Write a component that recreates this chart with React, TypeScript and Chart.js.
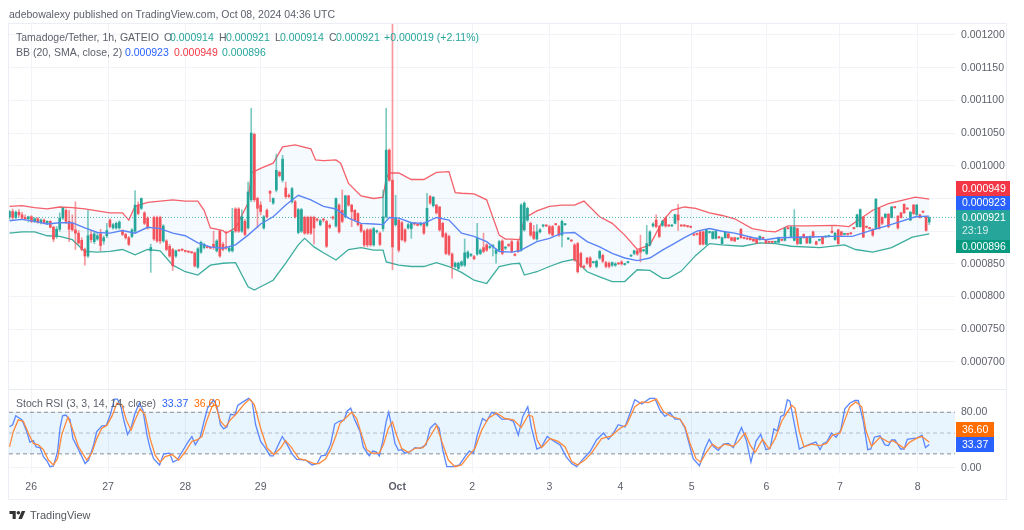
import React, { useEffect, useRef } from "react";
import { Chart, registerables } from "chart.js";

Chart.register(...registerables);

const opens = [
  922, 930, 921, 929, 925, 921, 919, 922, 915, 919,
  914, 917, 913, 915, 906, 892, 903, 920, 932, 915,
  912, 902, 897, 886, 872, 862, 895, 884, 888, 896,
  885, 893, 917, 905, 905, 905, 900, 895, 890, 892,
  900, 940, 935, 928, 920, 870, 921, 921, 921, 885,
  885, 877, 872, 862, 871, 872, 870, 869, 868, 867,
  845, 868, 875, 876, 875, 880, 870, 900, 880, 876,
  870, 870, 934, 934, 900, 915, 905, 948, 1048, 950,
  940, 905, 932, 961, 943, 963, 990, 978, 966, 955,
  945, 945, 898, 900, 921, 921, 921, 921, 918, 910,
  918, 915, 909, 921, 908, 940, 932, 922, 954, 940,
  932, 927, 910, 900, 902, 902, 879, 899, 897, 904,
  922, 1024, 978, 910, 917, 913, 902, 905, 904, 912,
  910, 910, 912, 909, 953, 939, 940, 937, 912, 896,
  892, 865, 846, 843, 848, 848, 860, 863, 861, 865,
  866, 875, 879, 875, 876, 866, 871, 885, 874, 879,
  884, 864, 884, 871, 902, 917, 912, 899, 888, 899,
  908, 909, 907, 907, 911, 907, 894, 910, 888, 886,
  879, 881, 866, 846, 859, 859, 852, 846, 859, 863,
  852, 851, 848, 848, 851, 853, 849, 852, 862, 866,
  870, 873, 870, 866, 879, 908, 917, 907, 909, 920,
  909, 908, 912, 925, 909, 909, 908, 907, 895, 896,
  899, 899, 880, 898, 889, 889, 891, 881, 890, 896,
  890, 890, 888, 903, 890, 889, 890, 888, 888, 887,
  890, 886, 884, 884, 883, 883, 887, 886, 905, 892,
  886, 904, 881, 895, 891, 882, 899, 884, 886, 891,
  891, 892, 900, 887, 902, 899, 895, 896, 897, 905,
  907, 907, 921, 907, 905, 903, 904, 935, 921, 921,
  926, 921, 937, 923, 928, 941, 935, 917, 940, 925,
  925, 930, 922, 914,
];
const closes = [
  930, 921, 929, 925, 920, 919, 922, 915, 919, 914,
  917, 913, 915, 906, 888, 903, 920, 935, 915, 903,
  902, 897, 882, 872, 862, 893, 887, 896, 893, 878,
  890, 901, 907, 910, 912, 914, 895, 890, 880, 902,
  940, 927, 950, 912, 905, 875, 888, 885, 885, 908,
  872, 862, 847, 870, 870, 871, 869, 868, 867, 847,
  873, 883, 880, 875, 874, 876, 885, 862, 872, 874,
  874, 900, 900, 900, 922, 895, 960, 1050, 948, 935,
  930, 922, 922, 958, 950, 993, 985, 1010, 953, 953,
  965, 922, 933, 933, 897, 897, 897, 905, 917, 916,
  917, 877, 906, 920, 950, 899, 915, 954, 940, 930,
  917, 910, 900, 879, 879, 879, 904, 900, 880, 922,
  1024, 978, 876, 920, 871, 887, 885, 910, 912, 911,
  909, 912, 897, 935, 943, 952, 928, 902, 892, 866,
  865, 846, 851, 851, 853, 867, 868, 864, 858, 889,
  871, 869, 871, 876, 878, 871, 884, 866, 875, 878,
  869, 863, 869, 940, 943, 935, 894, 889, 899, 902,
  909, 908, 897, 894, 910, 894, 915, 911, 889, 885,
  856, 838, 846, 845, 851, 846, 853, 854, 869, 854,
  846, 846, 852, 850, 850, 850, 850, 853, 863, 870,
  865, 868, 871, 881, 899, 911, 907, 892, 915, 908,
  908, 909, 925, 917, 908, 908, 907, 906, 894, 895,
  880, 880, 902, 899, 899, 900, 890, 890, 899, 890,
  886, 885, 889, 890, 889, 888, 887, 885, 882, 892,
  889, 882, 883, 883, 884, 890, 886, 904, 904, 906,
  906, 881, 891, 890, 882, 892, 891, 880, 887, 881,
  892, 893, 898, 897, 881, 894, 896, 895, 896, 904,
  925, 933, 891, 906, 904, 894, 949, 904, 912, 926,
  907, 937, 936, 905, 921, 928, 934, 929, 927, 940,
  921, 929, 901, 921,
];
const highs = [
  932, 934, 931, 933, 929, 925, 923, 924, 921, 921,
  919, 919, 916, 916, 908, 907, 928, 936, 934, 932,
  925, 945, 901, 890, 874, 932, 901, 899, 898, 903,
  893, 912, 919, 912, 914, 916, 902, 897, 892, 904,
  962, 945, 951, 930, 922, 880, 923, 923, 923, 910,
  887, 880, 874, 871, 872, 873, 871, 870, 869, 868,
  875, 885, 882, 877, 876, 900, 887, 902, 883, 900,
  876, 935, 936, 936, 933, 918, 975, 1088, 1050, 952,
  945, 924, 934, 962, 951, 1018, 992, 1016, 975, 957,
  967, 947, 935, 935, 923, 923, 923, 923, 920, 918,
  920, 917, 911, 923, 951, 942, 963, 955, 955, 941,
  933, 928, 912, 902, 904, 904, 906, 902, 899, 963,
  1088, 1026, 1217, 955, 918, 915, 904, 912, 914, 913,
  912, 914, 914, 958, 955, 953, 941, 938, 914, 898,
  894, 867, 853, 853, 855, 888, 870, 866, 863, 912,
  873, 897, 881, 878, 880, 873, 886, 887, 877, 881,
  886, 866, 886, 942, 945, 937, 914, 909, 910, 904,
  910, 910, 909, 909, 912, 909, 917, 912, 890, 887,
  881, 883, 868, 848, 860, 861, 854, 856, 871, 865,
  854, 853, 853, 852, 852, 855, 851, 854, 864, 871,
  872, 894, 872, 909, 901, 913, 925, 909, 917, 922,
  910, 910, 926, 941, 910, 910, 909, 908, 896, 897,
  900, 900, 903, 900, 900, 901, 892, 891, 900, 897,
  891, 891, 890, 904, 891, 890, 891, 889, 889, 893,
  891, 887, 885, 885, 885, 891, 888, 906, 906, 908,
  933, 905, 892, 896, 892, 893, 900, 885, 888, 892,
  893, 894, 907, 898, 903, 900, 897, 897, 898, 906,
  926, 934, 922, 908, 906, 904, 950, 936, 922, 927,
  927, 938, 938, 924, 929, 942, 936, 930, 941, 941,
  926, 931, 923, 921,
];
const lows = [
  918, 917, 919, 922, 918, 917, 914, 913, 913, 912,
  911, 911, 910, 905, 884, 889, 900, 918, 912, 884,
  900, 872, 880, 870, 848, 860, 883, 881, 886, 870,
  880, 890, 905, 903, 903, 903, 893, 888, 878, 890,
  898, 925, 933, 910, 903, 837, 886, 883, 881, 883,
  870, 860, 840, 860, 869, 870, 868, 867, 866, 845,
  843, 866, 873, 874, 873, 872, 868, 860, 870, 872,
  868, 868, 898, 898, 898, 893, 903, 945, 945, 905,
  925, 903, 920, 945, 941, 960, 983, 975, 950, 951,
  943, 920, 896, 898, 895, 895, 895, 880, 915, 908,
  914, 875, 904, 918, 906, 897, 913, 920, 938, 907,
  915, 908, 898, 876, 876, 877, 877, 897, 878, 900,
  920, 976, 841, 908, 868, 885, 883, 903, 889, 909,
  908, 908, 895, 907, 941, 937, 926, 900, 890, 864,
  863, 828, 844, 841, 846, 846, 858, 861, 856, 863,
  864, 867, 869, 873, 862, 851, 869, 864, 872, 876,
  867, 862, 867, 869, 900, 915, 892, 887, 886, 897,
  906, 907, 895, 892, 909, 892, 876, 909, 887, 884,
  854, 836, 844, 843, 849, 844, 851, 844, 857, 852,
  844, 844, 846, 846, 849, 848, 848, 851, 861, 864,
  863, 853, 869, 864, 877, 906, 905, 890, 907, 906,
  907, 907, 911, 901, 907, 907, 906, 905, 893, 894,
  879, 879, 879, 897, 888, 888, 889, 880, 889, 889,
  885, 884, 887, 889, 888, 887, 886, 884, 881, 886,
  888, 881, 882, 882, 882, 882, 885, 885, 903, 891,
  885, 879, 880, 889, 881, 881, 890, 879, 885, 880,
  890, 891, 897, 886, 880, 893, 894, 894, 895, 903,
  906, 906, 890, 905, 903, 892, 903, 903, 910, 920,
  905, 920, 935, 903, 920, 927, 933, 916, 925, 924,
  920, 928, 900, 910,
];

const upperBars = [0, 4, 8, 12, 16, 20, 24, 28, 32, 36, 38, 40, 44, 48, 52, 56, 60, 62, 64, 68, 69, 72, 76, 77, 80, 84, 87, 91, 96, 97.5, 100, 104, 105.5, 108, 112, 116, 119, 120, 121, 124, 128, 132, 136, 140, 142, 144, 148, 152, 156, 158, 160, 162.5, 164, 168, 172, 176, 180, 183, 188, 192, 196, 200, 204, 208, 211, 215, 218.6, 223, 227, 231, 236.6, 241, 244, 248, 254.7, 263, 267.4, 275, 280, 288.6, 293];
const upperBand = [938, 939, 936, 934, 937, 936, 934, 931, 928, 928, 917, 938, 944, 946, 948, 946, 946, 932, 905, 901, 897, 905, 943, 989, 996, 1004, 1029, 1032, 1026, 1009, 1008, 1009, 1004, 973, 954, 950, 952, 981, 989, 989, 979, 979, 990, 991, 959, 958, 957, 948, 894, 888, 888, 887, 920, 931, 938, 940, 940, 946, 922, 912, 894, 872, 879, 915, 932, 937, 935, 928, 924, 919, 904, 900, 899, 908, 908, 909, 907, 932, 942, 952, 949];
const middleBars = [0, 4, 8, 12, 16, 20, 24, 28, 32, 36, 40, 44, 48, 52, 56, 60, 64, 68, 72, 76, 80, 84, 88, 92, 96, 100, 104, 108, 112, 116, 119, 121, 124, 128, 132, 136, 140, 144, 148, 152, 156, 160, 162.5, 168, 172, 176, 180, 184, 188, 192, 196, 200, 204, 208, 211, 215, 219, 223, 227, 231, 237, 241, 245, 255, 262, 268.5, 275, 280, 288.6, 293];
const middleBand = [916, 918, 915, 911, 913, 913, 905, 898, 897, 901, 897, 906, 904, 897, 893, 882, 876, 874, 879, 894, 911, 922, 940, 955, 948, 938, 934, 920, 912, 911, 910, 921, 920, 913, 912, 921, 917, 897, 892, 884, 869, 868, 870, 884, 889, 897, 898, 884, 876, 866, 859, 855, 859, 871, 879, 890, 900, 904, 900, 897, 890, 887, 890, 891, 892, 892, 902, 909, 922, 923];
const lowerBars = [0, 4, 8, 12, 16, 20, 24, 28, 32, 36, 40, 44, 48, 52, 56, 60, 64, 68, 72, 76, 78, 80, 84, 88, 92, 94, 97, 100, 104, 108, 112, 116, 119, 120, 124, 128, 132, 136, 140, 144, 148, 152, 156, 160, 162.5, 164, 168, 172, 176, 180, 184, 188, 192, 196, 200, 204, 208, 210, 214, 218.6, 223, 227, 233.5, 239, 244, 249, 258, 266, 269.5, 275, 281, 287.6, 293];
const lowerBand = [897, 899, 899, 893, 892, 887, 869, 868, 869, 872, 864, 872, 870, 848, 838, 833, 848, 851, 852, 815, 810, 815, 825, 851, 879, 889, 876, 867, 856, 872, 875, 871, 871, 853, 848, 846, 846, 852, 846, 837, 825, 820, 846, 850, 851, 833, 838, 846, 853, 857, 838, 830, 823, 823, 841, 840, 828, 828, 839, 863, 881, 879, 877, 882, 881, 877, 875, 879, 872, 868, 875, 891, 896];

const stochKBars = [0, 1, 2, 4, 5.5, 6.5, 7.6, 8.5, 9.7, 10.8, 11.9, 12.9, 14, 15.3, 16.1, 16.9, 17.9, 19.3, 20.2, 22, 24.1, 25.2, 26.8, 27.8, 29.4, 30.8, 32.1, 33.4, 34.4, 35.5, 36.5, 37.6, 38.7, 40, 41.4, 42.5, 43.8, 44.8, 45.9, 47.8, 49.1, 51, 52.1, 53.4, 55, 57, 58.1, 59.2, 60.8, 62.1, 63.1, 65, 66.1, 67.2, 68.2, 69.3, 70.4, 71.8, 72.7, 74.4, 76.2, 77.3, 78.4, 80, 81.6, 83, 84, 85.3, 86.9, 88.5, 90, 91.5, 94.3, 96.4, 98, 99.3, 100.7, 102.3, 103.6, 105,
  106.6, 107.6, 108.7, 109.8, 111.7, 112.7, 114.6, 115.7, 116.8, 117.8, 118.9, 120, 120.8, 121.8, 122.8, 123.9, 124.9, 126, 127.6, 129.2, 130.8, 132.7, 134, 135.6, 136.9, 138, 139.3, 141.4, 143.3, 145.1, 146.5, 147.8, 149, 150.7, 152, 153.6, 155.2, 156.8, 158.9, 160.5, 162.1, 163.5, 165.1, 166.3, 168, 169.5, 171.3, 173.2, 175.4, 177.3, 179.1, 180.7, 182.8, 184.9, 187, 189.2, 190.8, 192.4, 193.9, 196.1, 197.7, 199.2, 201.4, 204, 205.6, 207.2, 208.8, 210.4, 212, 213.6,
  215.2, 216.3, 217.8, 219.8, 221.6, 222.9, 224.2, 225.8, 227.4, 229, 230.6, 231.9, 233.2, 234.8, 236.2, 237.8, 239.3, 241, 242.3, 243.5, 244.6, 245.7, 246.7, 247.8, 248.6, 249.7, 251.6, 253.4, 255, 256.9, 258.2, 259.2, 260.3, 261.9, 263.3, 264.8, 266.1, 267.7, 269.3, 270.4, 272, 273.4, 274.4, 275.5, 277.3, 278.9, 280, 281, 282.1, 283.9, 285, 286, 287.4, 289.2, 290.7, 291.8, 293];
const stochK = [59, 62, 75, 69, 52, 37, 39, 30, 29, 16, 10, 1.5, 2.5, 23, 57, 75, 76, 69, 42, 26, 6, 11, 33, 52, 60, 61, 76, 99, 99, 88, 67, 48, 57, 79, 93, 83, 47, 28, 13, 4, 20, 21, 8, 11, 23, 38, 45, 33, 45, 69, 86, 98, 88, 62, 56, 59, 77, 76, 90, 95, 100, 95, 62, 38, 28, 17, 17, 30, 45, 33, 20, 12, 11, 4, 6, 17, 18, 34, 63, 67,
  69, 82, 86, 71, 52, 30, 17, 24, 23, 17, 38, 67, 80, 59, 35, 25, 26, 21, 23, 29, 28, 33, 57, 64, 57, 26, 1.5, 1.5, 4, 16, 24, 21, 47, 71, 67, 80, 77, 70, 70, 67, 47, 74, 88, 57, 27, 30, 45, 39, 33, 16, 6, 1.5, 13, 23, 40, 50, 41, 50, 62, 59, 79, 98, 92, 100, 100, 83, 74, 79, 70, 70,
  57, 38, 13, 3, 28, 41, 31, 25, 34, 35, 29, 45, 58, 38, 8, 38, 48, 26, 28, 56, 53, 74, 76, 98, 96, 71, 27, 31, 34, 37, 26, 35, 37, 50, 44, 54, 85, 93, 97, 97, 67, 26, 27, 44, 46, 33, 32, 40, 40, 27, 27, 41, 42, 43, 47, 29, 33.37];
const stochDBars = [0, 1.2, 2.8, 4.4, 6, 7.6, 9.2, 10.8, 12.4, 14, 15.3, 16.6, 18.6, 19.8, 22, 24.6, 26.2, 27.8, 29.4, 31, 32.6, 34.2, 35.8, 37.2, 38.7, 40, 41.6, 43.2, 44.8, 46.4, 48, 49.6, 51.8, 53.9, 56, 58.1, 59.7, 61.3, 62.9, 64.5, 65.6, 67.2, 68.8, 70.4, 72.5, 74.6, 76.5, 78, 80, 82.1, 84.2, 86.3, 87.9, 89.7, 92.2, 94.3, 97, 98.6, 100.7, 102.3, 103.9, 105.3,
  106.9, 109, 110.6, 112.2, 113.8, 115.4, 117.8, 119.1, 120.7, 122, 123.3, 124.9, 127.1, 129.2, 131.8, 134, 136.1, 137.7, 139.8, 141.9, 144, 146.2, 148.3, 150.4, 152.5, 155.2, 157.8, 160.5, 163, 165.3, 166.6, 168.1, 169.5, 172.2, 174.8, 177, 179.1, 180.9, 183.3, 185.4, 188.6, 191.8, 194.5, 196.6, 199.2, 201.4, 203.5, 206.1, 208.3, 210.4, 213.6,
  215.2, 216.8, 218.7, 220.2, 222.1, 223.9, 225.8, 227.9, 230.6, 232.2, 234.3, 235.9, 237.5, 239.9, 242, 243.9, 246, 247.6, 249.2, 250.2, 251.6, 253.1, 255.5, 258.2, 260.3, 262.2, 264.6, 266.1, 267.7, 269.6, 271.5, 272.8, 274.6, 277.3, 280, 281.5, 285, 286.8, 289.2, 290.7, 293];
const stochD = [30, 52, 69, 67, 50, 35, 33, 26, 11, 4, 13, 47, 73, 59, 30, 11, 21, 42, 57, 61, 74, 93, 91, 69, 54, 69, 85, 76, 42, 18, 8, 16, 19, 11, 23, 38, 40, 45, 69, 88, 91, 67, 59, 69, 79, 91, 99, 91, 57, 28, 19, 28, 39, 30, 13, 11, 6, 6, 13, 26, 45, 64,
  71, 80, 71, 47, 26, 21, 21, 33, 57, 66, 47, 28, 22, 28, 29, 45, 61, 38, 11, 1.5, 4, 17, 28, 54, 71, 79, 71, 69, 58, 76, 74, 40, 29, 42, 38, 30, 9, 4, 11, 21, 42, 46, 57, 62, 88, 95, 94, 99, 81, 75, 70,
  59, 35, 13, 8, 23, 34, 28, 34, 31, 38, 50, 33, 22, 41, 27, 42, 67, 79, 90, 86, 52, 30, 34, 32, 35, 47, 50, 69, 88, 95, 88, 54, 31, 44, 37, 39, 28, 37, 43, 45, 36.6];

const dayTickBars = [6.9, 31.4, 56, 80, 123.5, 147.4, 172, 194.6, 217.3, 241.1, 264.5, 289.3];
const dayTickLabels = ["26", "27", "28", "29", "Oct", "2", "3", "4", "5", "6", "7", "8"];
const priceTicks = [700, 750, 800, 850, 900, 950, 1000, 1050, 1100, 1150, 1200];
const stochTicks = [0, 80];
const stochLevels = [80, 50, 20];

const UP = "#26a69a";
const DOWN = "#f4525b";
const FONT = "'Liberation Sans', Arial, sans-serif";
const SIZE = 10.5;
const TEXT = "#5d606b";
const GRID = "#f2f3f8";

const barColors = (alpha: number) =>
  opens.map((o, i) => {
    const up = closes[i] >= o;
    return alpha === 1 ? (up ? UP : DOWN) : up ? `rgba(38,166,154,${alpha})` : `rgba(244,82,91,${alpha})`;
  });

const line = (xs: number[], ys: number[]) => xs.map((x, i) => ({ x, y: ys[i] }));

const tagPlugin = {
  id: "paneTags",
  afterDraw(chart: any) {
    const { ctx, scales } = chart;
    const a = chart.chartArea;
    ctx.save();
    ctx.strokeStyle = "#e9ebf3";
    ctx.lineWidth = 1;
    ctx.beginPath();
    ctx.moveTo(a.left, Math.round(scales.yStoch.top) + 0.5);
    ctx.lineTo(a.right + 51, Math.round(scales.yStoch.top) + 0.5);
    ctx.stroke();
    const tags = [
      { t: "0.000949", sub: "", y: 181, h: 15, w: 54, c: "#f23645" },
      { t: "0.000923", sub: "", y: 196, h: 14, w: 54, c: "#2962ff" },
      { t: "0.000921", sub: "23:19", y: 210, h: 30, w: 54, c: "#26a69a" },
      { t: "0.000896", sub: "", y: 240, h: 13, w: 54, c: "#089981" },
      { t: "36.60", sub: "", y: 422, h: 15, w: 38, c: "#ff6d00" },
      { t: "33.37", sub: "", y: 437, h: 15, w: 38, c: "#2962ff" },
    ];
    ctx.font = `${SIZE}px ${FONT}`;
    ctx.textBaseline = "middle";
    ctx.textAlign = "left";
    tags.forEach((g) => {
      ctx.fillStyle = g.c;
      ctx.fillRect(956, g.y, g.w, g.h);
      ctx.fillStyle = "#ffffff";
      if (g.sub) {
        ctx.fillText(g.t, 962, g.y + 8);
        ctx.fillStyle = "rgba(255,255,255,0.8)";
        ctx.fillText(g.sub, 962, g.y + 21);
      } else {
        ctx.fillText(g.t, 962, g.y + g.h / 2 + 0.5);
      }
    });
    ctx.restore();
  },
};

const Txt = ({ x, y, c, children, size = SIZE, w }: any) => (
  <span
    style={{
      position: "absolute",
      left: x,
      top: y,
      color: c,
      fontSize: size,
      fontWeight: w,
      lineHeight: "14px",
      whiteSpace: "nowrap",
      fontFamily: FONT,
    }}
  >
    {children}
  </span>
);

export default function App() {
  const ref = useRef<HTMLCanvasElement>(null);

  useEffect(() => {
    const xMin = -0.16;
    const xMax = 301.2;
    const chart = new Chart(ref.current as HTMLCanvasElement, {
      type: "bar",
      data: {
        datasets: [
          {
            type: "line",
            data: line(upperBars, upperBand),
            yAxisID: "y",
            borderColor: "#f5606a",
            borderWidth: 1.3,
            pointRadius: 0,
            fill: "+1",
            backgroundColor: "rgba(33,150,243,0.05)",
            order: 7,
          },
          {
            type: "line",
            data: line(lowerBars, lowerBand),
            yAxisID: "y",
            borderColor: "#3fae9c",
            borderWidth: 1.3,
            pointRadius: 0,
            fill: false,
            order: 7,
          },
          {
            type: "line",
            data: line([xMin, xMax], [921, 921]),
            yAxisID: "y",
            borderColor: "rgba(38,166,154,0.8)",
            borderWidth: 1,
            borderDash: [1, 2],
            pointRadius: 0,
            fill: false,
            order: 6,
          },
          {
            type: "bar",
            data: opens.map((_, i) => ({ x: i, y: [lows[i], highs[i]] })),
            yAxisID: "y",
            backgroundColor: barColors(0.6),
            barThickness: 1,
            grouped: false,
            minBarLength: 1,
            order: 5,
          },
          {
            type: "bar",
            data: opens.map((o, i) => ({ x: i, y: [o, closes[i]] })),
            yAxisID: "y",
            backgroundColor: barColors(1),
            barThickness: 2,
            grouped: false,
            minBarLength: 1,
            order: 4,
          },
          {
            type: "line",
            data: line(middleBars, middleBand),
            yAxisID: "y",
            borderColor: "#5b85f7",
            borderWidth: 1.4,
            pointRadius: 0,
            fill: false,
            order: 3,
          },
          {
            type: "line",
            data: line([xMin, xMax], [stochLevels[0], stochLevels[0]]),
            yAxisID: "yStoch",
            borderColor: "#8a8d96",
            borderWidth: 1,
            borderDash: [4, 3],
            pointRadius: 0,
            fill: "+1",
            backgroundColor: "rgba(33,150,243,0.1)",
            order: 8,
          },
          {
            type: "line",
            data: line([xMin, xMax], [stochLevels[2], stochLevels[2]]),
            yAxisID: "yStoch",
            borderColor: "#8a8d96",
            borderWidth: 1,
            borderDash: [4, 3],
            pointRadius: 0,
            fill: false,
            order: 8,
          },
          {
            type: "line",
            data: line([xMin, xMax], [stochLevels[1], stochLevels[1]]),
            yAxisID: "yStoch",
            borderColor: "rgba(120,123,134,0.45)",
            borderWidth: 1,
            borderDash: [4, 3],
            pointRadius: 0,
            fill: false,
            order: 8,
          },
          {
            type: "line",
            data: line(stochKBars, stochK),
            yAxisID: "yStoch",
            borderColor: "#5a87ff",
            borderWidth: 1.3,
            pointRadius: 0,
            fill: false,
            order: 2,
          },
          {
            type: "line",
            data: line(stochDBars, stochD),
            yAxisID: "yStoch",
            borderColor: "#ff8a3b",
            borderWidth: 1.3,
            pointRadius: 0,
            fill: false,
            order: 1,
          },
        ] as any,
      },
      options: {
        responsive: false,
        animation: false,
        events: [],
        layout: { padding: { left: 9, top: 24, right: 18, bottom: 31 } },
        plugins: { legend: { display: false }, tooltip: { enabled: false } },
        scales: {
          x: {
            type: "linear",
            position: "bottom",
            min: xMin,
            max: xMax,
            offset: false,
            grid: { color: GRID, offset: false, drawTicks: false },
            border: { display: false },
            afterBuildTicks: (s: any) => {
              s.ticks = dayTickBars.map((value) => ({ value }));
            },
            afterFit: (s: any) => {
              s.height = 26;
            },
            ticks: {
              autoSkip: false,
              maxRotation: 0,
              padding: 8,
              color: TEXT,
              font: (c: any) => ({
                family: FONT,
                size: SIZE,
                weight: dayTickLabels[c.index] === "Oct" ? "bold" : "normal",
              }),
              callback: (v: any) => dayTickLabels[dayTickBars.indexOf(v)],
            },
          },
          y: {
            type: "linear",
            position: "right",
            stack: "panes",
            stackWeight: 365,
            min: 658.7,
            max: 1216.8,
            grid: { color: GRID, drawTicks: false },
            border: { display: false },
            afterBuildTicks: (s: any) => {
              s.ticks = priceTicks.map((value) => ({ value }));
            },
            afterFit: (s: any) => {
              s.width = 51;
            },
            ticks: {
              padding: 6,
              color: TEXT,
              autoSkip: false,
              font: { family: FONT, size: SIZE },
              callback: (v: any) => (v / 1e6).toFixed(6),
            },
          },
          yStoch: {
            type: "linear",
            position: "right",
            stack: "panes",
            stackWeight: 84,
            min: -7.65,
            max: 113.6,
            grid: { color: GRID, drawTicks: false },
            border: { display: false },
            afterBuildTicks: (s: any) => {
              s.ticks = stochTicks.map((value) => ({ value }));
            },
            afterFit: (s: any) => {
              s.width = 51;
            },
            ticks: {
              padding: 6,
              color: TEXT,
              autoSkip: false,
              font: { family: FONT, size: SIZE },
              callback: (v: any) => Number(v).toFixed(2),
            },
          },
        },
      } as any,
      plugins: [tagPlugin as any],
    });
    return () => chart.destroy();
  }, []);

  return (
    <div style={{ position: "absolute", left: 0, top: 0, width: 1024, height: 530, background: "#fff", overflow: "hidden", filter: "blur(0.4px)" }}>
      <div style={{ position: "absolute", left: 8, top: 23, width: 997, height: 475, border: "1px solid #eceef5", boxSizing: "content-box" }} />
      <canvas ref={ref} width={1024} height={530} style={{ position: "absolute", left: 0, top: 0 }} />
      <Txt x={9} y={7} c={TEXT}>adebowalexy published on TradingView.com, Oct 08, 2024 04:36 UTC</Txt>

      <Txt x={16} y={30} c={TEXT}>Tamadoge/Tether, 1h, GATEIO</Txt>
      <Txt x={164} y={30} c={TEXT}>O</Txt>
      <Txt x={170} y={30} c={UP}>0.000914</Txt>
      <Txt x={219} y={30} c={TEXT}>H</Txt>
      <Txt x={226} y={30} c={UP}>0.000921</Txt>
      <Txt x={275} y={30} c={TEXT}>L</Txt>
      <Txt x={280} y={30} c={UP}>0.000914</Txt>
      <Txt x={329} y={30} c={TEXT}>C</Txt>
      <Txt x={336} y={30} c={UP}>0.000921</Txt>
      <Txt x={384} y={30} c={UP}>+0.000019 (+2.11%)</Txt>

      <Txt x={16} y={45} c={TEXT}>BB (20, SMA, close, 2)</Txt>
      <Txt x={125} y={45} c="#2962ff">0.000923</Txt>
      <Txt x={174} y={45} c="#f23645">0.000949</Txt>
      <Txt x={222} y={45} c={UP}>0.000896</Txt>

      <Txt x={16} y={396} c={TEXT}>Stoch RSI (3, 3, 14, 14, close)</Txt>
      <Txt x={162} y={396} c="#2962ff">33.37</Txt>
      <Txt x={194} y={396} c="#ff6d00">36.60</Txt>

      <svg style={{ position: "absolute", left: 9, top: 511 }} width="17" height="8" viewBox="0 0 36 18">
        <path d="M14 18H7V7H0V0h14v18zM28 18h-8l7.5-18h8L28 18z" fill="#333" />
        <circle cx="20" cy="4" r="4" fill="#333" />
      </svg>
      <Txt x={30} y={508} c="#55585f" size={11}>TradingView</Txt>
    </div>
  );
}
